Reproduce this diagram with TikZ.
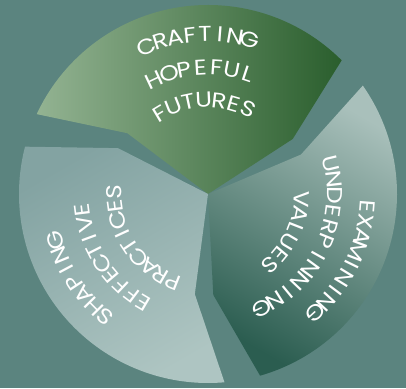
\documentclass[tikz,border=0pt]{standalone}
\usepackage{fontspec}
\setmainfont{Poppins}
\newfontfamily\wordfont{Poppins}[FakeStretch=1.16]
\definecolor{bg}{HTML}{5B847F}
\definecolor{gL}{HTML}{93B392}
\definecolor{gR}{HTML}{2A5E2D}
\definecolor{lT}{HTML}{83A3A2}
\definecolor{lB}{HTML}{AEC5C2}
\definecolor{rT}{HTML}{A9C0BB}
\definecolor{rB}{HTML}{2B5D50}
\newdimen\cwTot \newdimen\cwAcc \newdimen\cwW \newdimen\cwFirst \newdimen\cwLast \newdimen\cwPrev
\newcount\cwN \newcount\cwK \newcount\cwID
\newcommand\cwfont{\wordfont\fontsize{21.5}{21.5}\selectfont}
% #1 angle of first letter, #2 angle of last letter, #3 baseline radius (pt), #4 letters
\newcommand\curvedword[4]{%
  \global\cwTot=0pt \global\cwN=0
  \foreach \ch in {#4}{%
    \settowidth{\cwW}{\cwfont\ch}%
    \global\advance\cwTot by \cwW
    \global\advance\cwN by 1
    \ifnum\cwN=1 \global\cwFirst=\cwW\fi
    \global\cwLast=\cwW
  }%
  \pgfmathsetmacro\cwSp{((#1-#2)/57.29578*#3 - (\cwTot - 0.5*\cwFirst - 0.5*\cwLast))/(\cwN-1)}%
  \global\cwAcc=0pt \global\cwPrev=0pt \global\cwK=0
  \foreach \ch in {#4}{%
    \settowidth{\cwW}{\cwfont\ch}%
    \global\advance\cwK by 1
    \ifnum\cwK>1
      \pgfmathsetmacro\cwStep{0.5*\cwPrev + \cwSp + 0.5*\cwW}%
      \global\advance\cwAcc by \cwStep pt
    \fi
    \pgfmathsetmacro\cwA{#1 - \cwAcc/#3*57.29578}%
    \global\advance\cwID by 1
    \node[letter, rotate=\cwA-90] (cw\the\cwID) at (\cwA:#3pt) {\ch};
    \global\cwPrev=\cwW
  }%
}
\tikzset{letter/.style={inner sep=0pt, anchor=base, text=white, font=\cwfont}}
\begin{document}
\begin{tikzpicture}
\fill[bg] (-208pt,-194pt) rectangle (198pt,194pt);
\useasboundingbox (-208pt,-194pt) rectangle (198pt,194pt);
% top segment
\shade[left color=gL, right color=gR]
  (0,0) -- (33:101pt) -- (45:189pt) arc[start angle=45, end angle=155, radius=189pt] -- (143:101pt) -- cycle;
% left segment
\shade[top color=lT, bottom color=lB, shading angle=30]
  (0,0) -- (153:101pt) -- (165.5:189pt) arc[start angle=165.5, end angle=275, radius=189pt] -- (262.5:101pt) -- cycle;
% right segment
\shade[top color=rT, bottom color=rB, shading angle=-30]
  (0,0) -- (273:101pt) -- (286:189pt) arc[start angle=286, end angle=395, radius=189pt] -- (383:101pt) -- cycle;
% texts
\curvedword{112.8}{74.8}{152.5}{C,R,A,F,T,I,N,G}
\curvedword{115.2}{71.7}{119}{H,O,P,E,F,U,L}
\curvedword{120.9}{64.5}{86.5}{F,U,T,U,R,E,S}
\curvedword{230}{197}{152.5}{S,H,A,P,I,N,G}
\curvedword{239.4}{187.2}{119}{E,F,F,E,C,T,I,V,E}
\curvedword{248.3}{178.8}{86.5}{P,R,A,C,T,I,C,E,S}
\curvedword{355.4}{312.2}{152.5}{E,X,A,M,I,N,I,N,G}
\curvedword{373.7}{295.1}{119}{U,N,D,E,R,P,I,N,N,I,N,G}
\curvedword{357}{311}{86.5}{V,A,L,U,E,S}
\end{tikzpicture}
\end{document}
